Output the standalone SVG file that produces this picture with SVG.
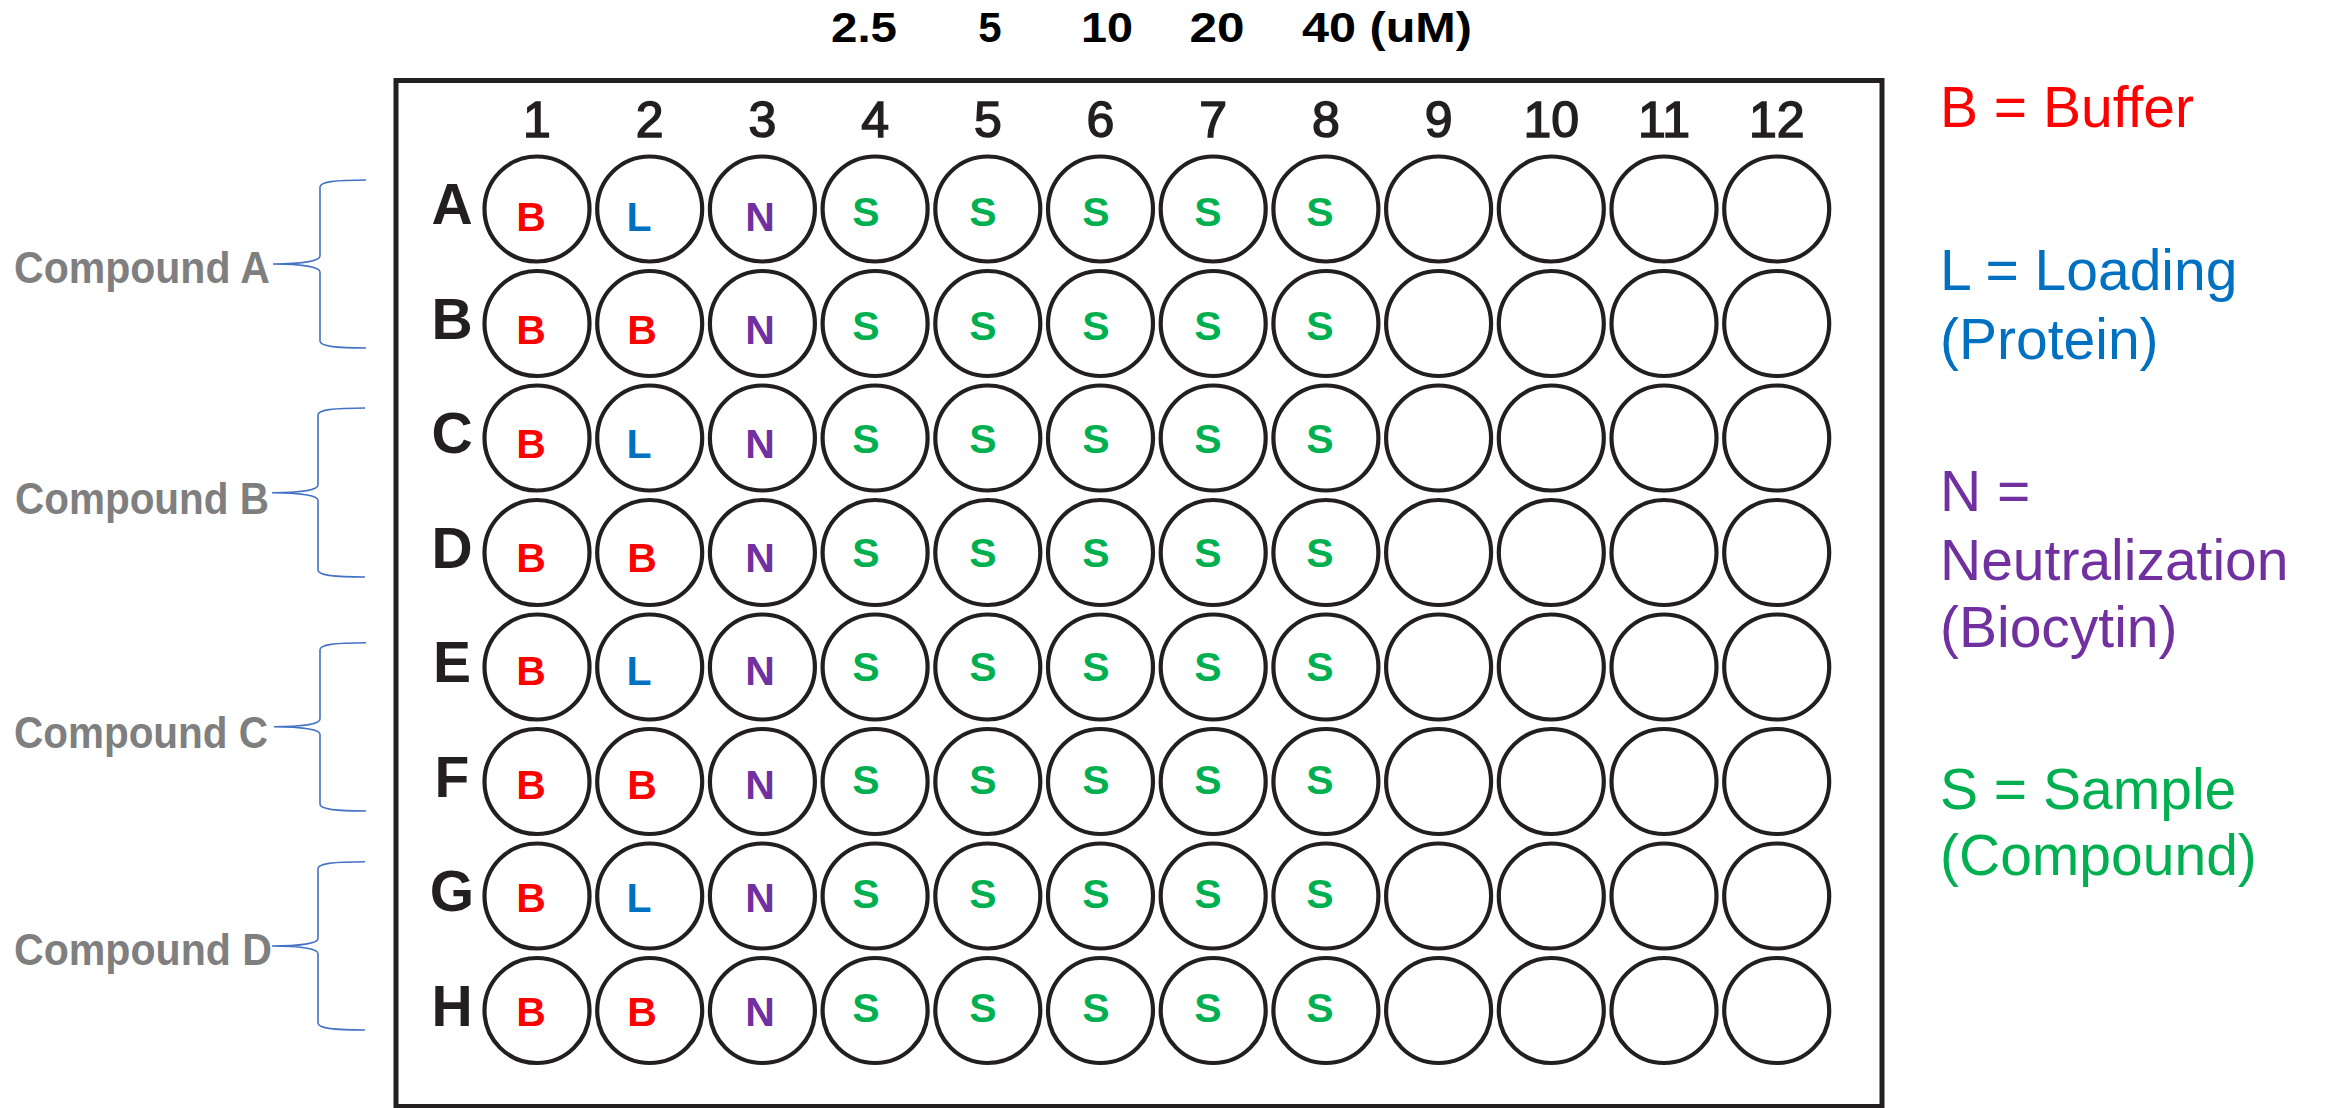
<svg xmlns="http://www.w3.org/2000/svg" width="2326" height="1108" viewBox="0 0 2326 1108">
<style>
.w{fill:#fff;stroke:#231f20;stroke-width:4.2}
.wl{font-family:"Liberation Sans",Arial,sans-serif;font-weight:bold;font-size:41px;text-anchor:middle}
.b{fill:#ff0000}.l{fill:#0070c0}.n{fill:#7030a0}.s{fill:#00b050}
.col{font-family:"Liberation Sans",Arial,sans-serif;font-size:50px;fill:#231f20;stroke:#231f20;stroke-width:1.5;text-anchor:middle}
.row{font-family:"Liberation Sans",Arial,sans-serif;font-weight:bold;font-size:57px;fill:#231f20;text-anchor:middle}
.conc{font-family:"Liberation Sans",Arial,sans-serif;font-weight:bold;font-size:42px;fill:#000}
.cmp{font-family:"Liberation Sans",Arial,sans-serif;font-weight:bold;font-size:44px;fill:#7f7f7f}
.lg{font-family:"Liberation Sans",Arial,sans-serif;font-size:57px}
.brace{fill:none;stroke:#4472c4;stroke-width:1.6}
</style>
<rect width="2326" height="1108" fill="#fff"/>
<g id="concentrations">
<text class="conc" x="864" y="42" text-anchor="middle" textLength="66" lengthAdjust="spacingAndGlyphs">2.5</text>
<text class="conc" x="990" y="42" text-anchor="middle">5</text>
<text class="conc" x="1107" y="42" text-anchor="middle" textLength="52" lengthAdjust="spacingAndGlyphs">10</text>
<text class="conc" x="1217" y="42" text-anchor="middle" textLength="55" lengthAdjust="spacingAndGlyphs">20</text>
<text class="conc" x="1302" y="42" textLength="170" lengthAdjust="spacingAndGlyphs">40 (uM)</text>
</g>
<g id="plate">
<rect x="396" y="80.5" width="1486" height="1026" fill="#fff" stroke="#231f20" stroke-width="5"/>
</g>
<g id="column-labels">
<text class="col" x="537" y="137">1</text>
<text class="col" x="649.7" y="137">2</text>
<text class="col" x="762.4" y="137">3</text>
<text class="col" x="875.1" y="137">4</text>
<text class="col" x="987.8" y="137">5</text>
<text class="col" x="1100.5" y="137">6</text>
<text class="col" x="1213.2" y="137">7</text>
<text class="col" x="1325.9" y="137">8</text>
<text class="col" x="1438.6" y="137">9</text>
<text class="col" x="1551.3" y="137">10</text>
<text class="col" x="1664" y="137">11</text>
<text class="col" x="1776.7" y="137">12</text>
</g>
<g id="row-labels">
<text class="row" x="452" y="224">A</text>
<text class="row" x="452" y="338.5">B</text>
<text class="row" x="452" y="453">C</text>
<text class="row" x="452" y="567.5">D</text>
<text class="row" x="452" y="682">E</text>
<text class="row" x="452" y="796.5">F</text>
<text class="row" x="452" y="911">G</text>
<text class="row" x="452" y="1025.5">H</text>
</g>
<g id="row-A">
<g id="well-A1"><circle class="w" cx="537" cy="209" r="52.5"/><text class="wl b" x="531" y="230.7">B</text></g>
<g id="well-A2"><circle class="w" cx="649.7" cy="209" r="52.5"/><text class="wl l" x="639" y="230.7">L</text></g>
<g id="well-A3"><circle class="w" cx="762.4" cy="209" r="52.5"/><text class="wl n" x="760" y="230.7">N</text></g>
<g id="well-A4"><circle class="w" cx="875.1" cy="209" r="52.5"/><text class="wl s" x="866" y="226">S</text></g>
<g id="well-A5"><circle class="w" cx="987.8" cy="209" r="52.5"/><text class="wl s" x="983" y="226">S</text></g>
<g id="well-A6"><circle class="w" cx="1100.5" cy="209" r="52.5"/><text class="wl s" x="1096" y="226">S</text></g>
<g id="well-A7"><circle class="w" cx="1213.2" cy="209" r="52.5"/><text class="wl s" x="1208" y="226">S</text></g>
<g id="well-A8"><circle class="w" cx="1325.9" cy="209" r="52.5"/><text class="wl s" x="1320" y="226">S</text></g>
<g id="well-A9"><circle class="w" cx="1438.6" cy="209" r="52.5"/></g>
<g id="well-A10"><circle class="w" cx="1551.3" cy="209" r="52.5"/></g>
<g id="well-A11"><circle class="w" cx="1664" cy="209" r="52.5"/></g>
<g id="well-A12"><circle class="w" cx="1776.7" cy="209" r="52.5"/></g>
</g>
<g id="row-B">
<g id="well-B1"><circle class="w" cx="537" cy="323.5" r="52.5"/><text class="wl b" x="531" y="344.3">B</text></g>
<g id="well-B2"><circle class="w" cx="649.7" cy="323.5" r="52.5"/><text class="wl b" x="642" y="344.3">B</text></g>
<g id="well-B3"><circle class="w" cx="762.4" cy="323.5" r="52.5"/><text class="wl n" x="760" y="344.3">N</text></g>
<g id="well-B4"><circle class="w" cx="875.1" cy="323.5" r="52.5"/><text class="wl s" x="866" y="339.7">S</text></g>
<g id="well-B5"><circle class="w" cx="987.8" cy="323.5" r="52.5"/><text class="wl s" x="983" y="339.7">S</text></g>
<g id="well-B6"><circle class="w" cx="1100.5" cy="323.5" r="52.5"/><text class="wl s" x="1096" y="339.7">S</text></g>
<g id="well-B7"><circle class="w" cx="1213.2" cy="323.5" r="52.5"/><text class="wl s" x="1208" y="339.7">S</text></g>
<g id="well-B8"><circle class="w" cx="1325.9" cy="323.5" r="52.5"/><text class="wl s" x="1320" y="339.7">S</text></g>
<g id="well-B9"><circle class="w" cx="1438.6" cy="323.5" r="52.5"/></g>
<g id="well-B10"><circle class="w" cx="1551.3" cy="323.5" r="52.5"/></g>
<g id="well-B11"><circle class="w" cx="1664" cy="323.5" r="52.5"/></g>
<g id="well-B12"><circle class="w" cx="1776.7" cy="323.5" r="52.5"/></g>
</g>
<g id="row-C">
<g id="well-C1"><circle class="w" cx="537" cy="438" r="52.5"/><text class="wl b" x="531" y="457.9">B</text></g>
<g id="well-C2"><circle class="w" cx="649.7" cy="438" r="52.5"/><text class="wl l" x="639" y="457.9">L</text></g>
<g id="well-C3"><circle class="w" cx="762.4" cy="438" r="52.5"/><text class="wl n" x="760" y="457.9">N</text></g>
<g id="well-C4"><circle class="w" cx="875.1" cy="438" r="52.5"/><text class="wl s" x="866" y="453.3">S</text></g>
<g id="well-C5"><circle class="w" cx="987.8" cy="438" r="52.5"/><text class="wl s" x="983" y="453.3">S</text></g>
<g id="well-C6"><circle class="w" cx="1100.5" cy="438" r="52.5"/><text class="wl s" x="1096" y="453.3">S</text></g>
<g id="well-C7"><circle class="w" cx="1213.2" cy="438" r="52.5"/><text class="wl s" x="1208" y="453.3">S</text></g>
<g id="well-C8"><circle class="w" cx="1325.9" cy="438" r="52.5"/><text class="wl s" x="1320" y="453.3">S</text></g>
<g id="well-C9"><circle class="w" cx="1438.6" cy="438" r="52.5"/></g>
<g id="well-C10"><circle class="w" cx="1551.3" cy="438" r="52.5"/></g>
<g id="well-C11"><circle class="w" cx="1664" cy="438" r="52.5"/></g>
<g id="well-C12"><circle class="w" cx="1776.7" cy="438" r="52.5"/></g>
</g>
<g id="row-D">
<g id="well-D1"><circle class="w" cx="537" cy="552.5" r="52.5"/><text class="wl b" x="531" y="571.5">B</text></g>
<g id="well-D2"><circle class="w" cx="649.7" cy="552.5" r="52.5"/><text class="wl b" x="642" y="571.5">B</text></g>
<g id="well-D3"><circle class="w" cx="762.4" cy="552.5" r="52.5"/><text class="wl n" x="760" y="571.5">N</text></g>
<g id="well-D4"><circle class="w" cx="875.1" cy="552.5" r="52.5"/><text class="wl s" x="866" y="567">S</text></g>
<g id="well-D5"><circle class="w" cx="987.8" cy="552.5" r="52.5"/><text class="wl s" x="983" y="567">S</text></g>
<g id="well-D6"><circle class="w" cx="1100.5" cy="552.5" r="52.5"/><text class="wl s" x="1096" y="567">S</text></g>
<g id="well-D7"><circle class="w" cx="1213.2" cy="552.5" r="52.5"/><text class="wl s" x="1208" y="567">S</text></g>
<g id="well-D8"><circle class="w" cx="1325.9" cy="552.5" r="52.5"/><text class="wl s" x="1320" y="567">S</text></g>
<g id="well-D9"><circle class="w" cx="1438.6" cy="552.5" r="52.5"/></g>
<g id="well-D10"><circle class="w" cx="1551.3" cy="552.5" r="52.5"/></g>
<g id="well-D11"><circle class="w" cx="1664" cy="552.5" r="52.5"/></g>
<g id="well-D12"><circle class="w" cx="1776.7" cy="552.5" r="52.5"/></g>
</g>
<g id="row-E">
<g id="well-E1"><circle class="w" cx="537" cy="667" r="52.5"/><text class="wl b" x="531" y="685.1">B</text></g>
<g id="well-E2"><circle class="w" cx="649.7" cy="667" r="52.5"/><text class="wl l" x="639" y="685.1">L</text></g>
<g id="well-E3"><circle class="w" cx="762.4" cy="667" r="52.5"/><text class="wl n" x="760" y="685.1">N</text></g>
<g id="well-E4"><circle class="w" cx="875.1" cy="667" r="52.5"/><text class="wl s" x="866" y="680.6">S</text></g>
<g id="well-E5"><circle class="w" cx="987.8" cy="667" r="52.5"/><text class="wl s" x="983" y="680.6">S</text></g>
<g id="well-E6"><circle class="w" cx="1100.5" cy="667" r="52.5"/><text class="wl s" x="1096" y="680.6">S</text></g>
<g id="well-E7"><circle class="w" cx="1213.2" cy="667" r="52.5"/><text class="wl s" x="1208" y="680.6">S</text></g>
<g id="well-E8"><circle class="w" cx="1325.9" cy="667" r="52.5"/><text class="wl s" x="1320" y="680.6">S</text></g>
<g id="well-E9"><circle class="w" cx="1438.6" cy="667" r="52.5"/></g>
<g id="well-E10"><circle class="w" cx="1551.3" cy="667" r="52.5"/></g>
<g id="well-E11"><circle class="w" cx="1664" cy="667" r="52.5"/></g>
<g id="well-E12"><circle class="w" cx="1776.7" cy="667" r="52.5"/></g>
</g>
<g id="row-F">
<g id="well-F1"><circle class="w" cx="537" cy="781.5" r="52.5"/><text class="wl b" x="531" y="798.7">B</text></g>
<g id="well-F2"><circle class="w" cx="649.7" cy="781.5" r="52.5"/><text class="wl b" x="642" y="798.7">B</text></g>
<g id="well-F3"><circle class="w" cx="762.4" cy="781.5" r="52.5"/><text class="wl n" x="760" y="798.7">N</text></g>
<g id="well-F4"><circle class="w" cx="875.1" cy="781.5" r="52.5"/><text class="wl s" x="866" y="794.3">S</text></g>
<g id="well-F5"><circle class="w" cx="987.8" cy="781.5" r="52.5"/><text class="wl s" x="983" y="794.3">S</text></g>
<g id="well-F6"><circle class="w" cx="1100.5" cy="781.5" r="52.5"/><text class="wl s" x="1096" y="794.3">S</text></g>
<g id="well-F7"><circle class="w" cx="1213.2" cy="781.5" r="52.5"/><text class="wl s" x="1208" y="794.3">S</text></g>
<g id="well-F8"><circle class="w" cx="1325.9" cy="781.5" r="52.5"/><text class="wl s" x="1320" y="794.3">S</text></g>
<g id="well-F9"><circle class="w" cx="1438.6" cy="781.5" r="52.5"/></g>
<g id="well-F10"><circle class="w" cx="1551.3" cy="781.5" r="52.5"/></g>
<g id="well-F11"><circle class="w" cx="1664" cy="781.5" r="52.5"/></g>
<g id="well-F12"><circle class="w" cx="1776.7" cy="781.5" r="52.5"/></g>
</g>
<g id="row-G">
<g id="well-G1"><circle class="w" cx="537" cy="896" r="52.5"/><text class="wl b" x="531" y="912.3">B</text></g>
<g id="well-G2"><circle class="w" cx="649.7" cy="896" r="52.5"/><text class="wl l" x="639" y="912.3">L</text></g>
<g id="well-G3"><circle class="w" cx="762.4" cy="896" r="52.5"/><text class="wl n" x="760" y="912.3">N</text></g>
<g id="well-G4"><circle class="w" cx="875.1" cy="896" r="52.5"/><text class="wl s" x="866" y="907.9">S</text></g>
<g id="well-G5"><circle class="w" cx="987.8" cy="896" r="52.5"/><text class="wl s" x="983" y="907.9">S</text></g>
<g id="well-G6"><circle class="w" cx="1100.5" cy="896" r="52.5"/><text class="wl s" x="1096" y="907.9">S</text></g>
<g id="well-G7"><circle class="w" cx="1213.2" cy="896" r="52.5"/><text class="wl s" x="1208" y="907.9">S</text></g>
<g id="well-G8"><circle class="w" cx="1325.9" cy="896" r="52.5"/><text class="wl s" x="1320" y="907.9">S</text></g>
<g id="well-G9"><circle class="w" cx="1438.6" cy="896" r="52.5"/></g>
<g id="well-G10"><circle class="w" cx="1551.3" cy="896" r="52.5"/></g>
<g id="well-G11"><circle class="w" cx="1664" cy="896" r="52.5"/></g>
<g id="well-G12"><circle class="w" cx="1776.7" cy="896" r="52.5"/></g>
</g>
<g id="row-H">
<g id="well-H1"><circle class="w" cx="537" cy="1010.5" r="52.5"/><text class="wl b" x="531" y="1025.9">B</text></g>
<g id="well-H2"><circle class="w" cx="649.7" cy="1010.5" r="52.5"/><text class="wl b" x="642" y="1025.9">B</text></g>
<g id="well-H3"><circle class="w" cx="762.4" cy="1010.5" r="52.5"/><text class="wl n" x="760" y="1025.9">N</text></g>
<g id="well-H4"><circle class="w" cx="875.1" cy="1010.5" r="52.5"/><text class="wl s" x="866" y="1021.6">S</text></g>
<g id="well-H5"><circle class="w" cx="987.8" cy="1010.5" r="52.5"/><text class="wl s" x="983" y="1021.6">S</text></g>
<g id="well-H6"><circle class="w" cx="1100.5" cy="1010.5" r="52.5"/><text class="wl s" x="1096" y="1021.6">S</text></g>
<g id="well-H7"><circle class="w" cx="1213.2" cy="1010.5" r="52.5"/><text class="wl s" x="1208" y="1021.6">S</text></g>
<g id="well-H8"><circle class="w" cx="1325.9" cy="1010.5" r="52.5"/><text class="wl s" x="1320" y="1021.6">S</text></g>
<g id="well-H9"><circle class="w" cx="1438.6" cy="1010.5" r="52.5"/></g>
<g id="well-H10"><circle class="w" cx="1551.3" cy="1010.5" r="52.5"/></g>
<g id="well-H11"><circle class="w" cx="1664" cy="1010.5" r="52.5"/></g>
<g id="well-H12"><circle class="w" cx="1776.7" cy="1010.5" r="52.5"/></g>
</g>
<g id="compound-labels">
<g id="compound-A"><text class="cmp" x="14" y="283.3" textLength="256" lengthAdjust="spacingAndGlyphs">Compound A</text></g>
<g id="compound-B"><text class="cmp" x="15" y="514" textLength="254" lengthAdjust="spacingAndGlyphs">Compound B</text></g>
<g id="compound-C"><text class="cmp" x="14" y="748.3" textLength="254" lengthAdjust="spacingAndGlyphs">Compound C</text></g>
<g id="compound-D"><text class="cmp" x="14" y="965" textLength="258" lengthAdjust="spacingAndGlyphs">Compound D</text></g>
</g>
<g id="connectors">
<path class="brace" d="M366 180 C334 180 320 182 320 187 L320 256 C320 261 302 264 273 264 C302 264 320 267 320 272 L320 341 C320 346 334 348 366 348"/>
<path class="brace" d="M365 408 C332 408 318 410 318 415 L318 485 C318 490 300 492.7 272 492.7 C300 492.7 318 495.5 318 500.5 L318 570 C318 575 332 577 365 577"/>
<path class="brace" d="M366 642.7 C334 642.7 320 644.7 320 649.7 L320 719 C320 724 302 726.7 274 726.7 C302 726.7 320 729.5 320 734.5 L320 804 C320 809 334 811 366 811"/>
<path class="brace" d="M365 861.7 C332 861.7 318 863.7 318 868.7 L318 938.5 C318 943.5 300 946 272 946 C300 946 318 948.7 318 953.7 L318 1023 C318 1028 332 1030 365 1030"/>
</g>
<g id="legend">
<g id="legend-B"><text class="lg b" x="1940" y="127">B = Buffer</text></g>
<g id="legend-L"><text class="lg l" x="1940" y="289.6">L = Loading</text><text class="lg l" x="1940" y="358.5">(Protein)</text></g>
<g id="legend-N"><text class="lg n" x="1940" y="510.6">N =</text><text class="lg n" x="1940" y="579.5">Neutralization</text><text class="lg n" x="1940" y="646.7">(Biocytin)</text></g>
<g id="legend-S"><text class="lg s" x="1940" y="809">S = Sample</text><text class="lg s" x="1940" y="875">(Compound)</text></g>
</g>
</svg>
